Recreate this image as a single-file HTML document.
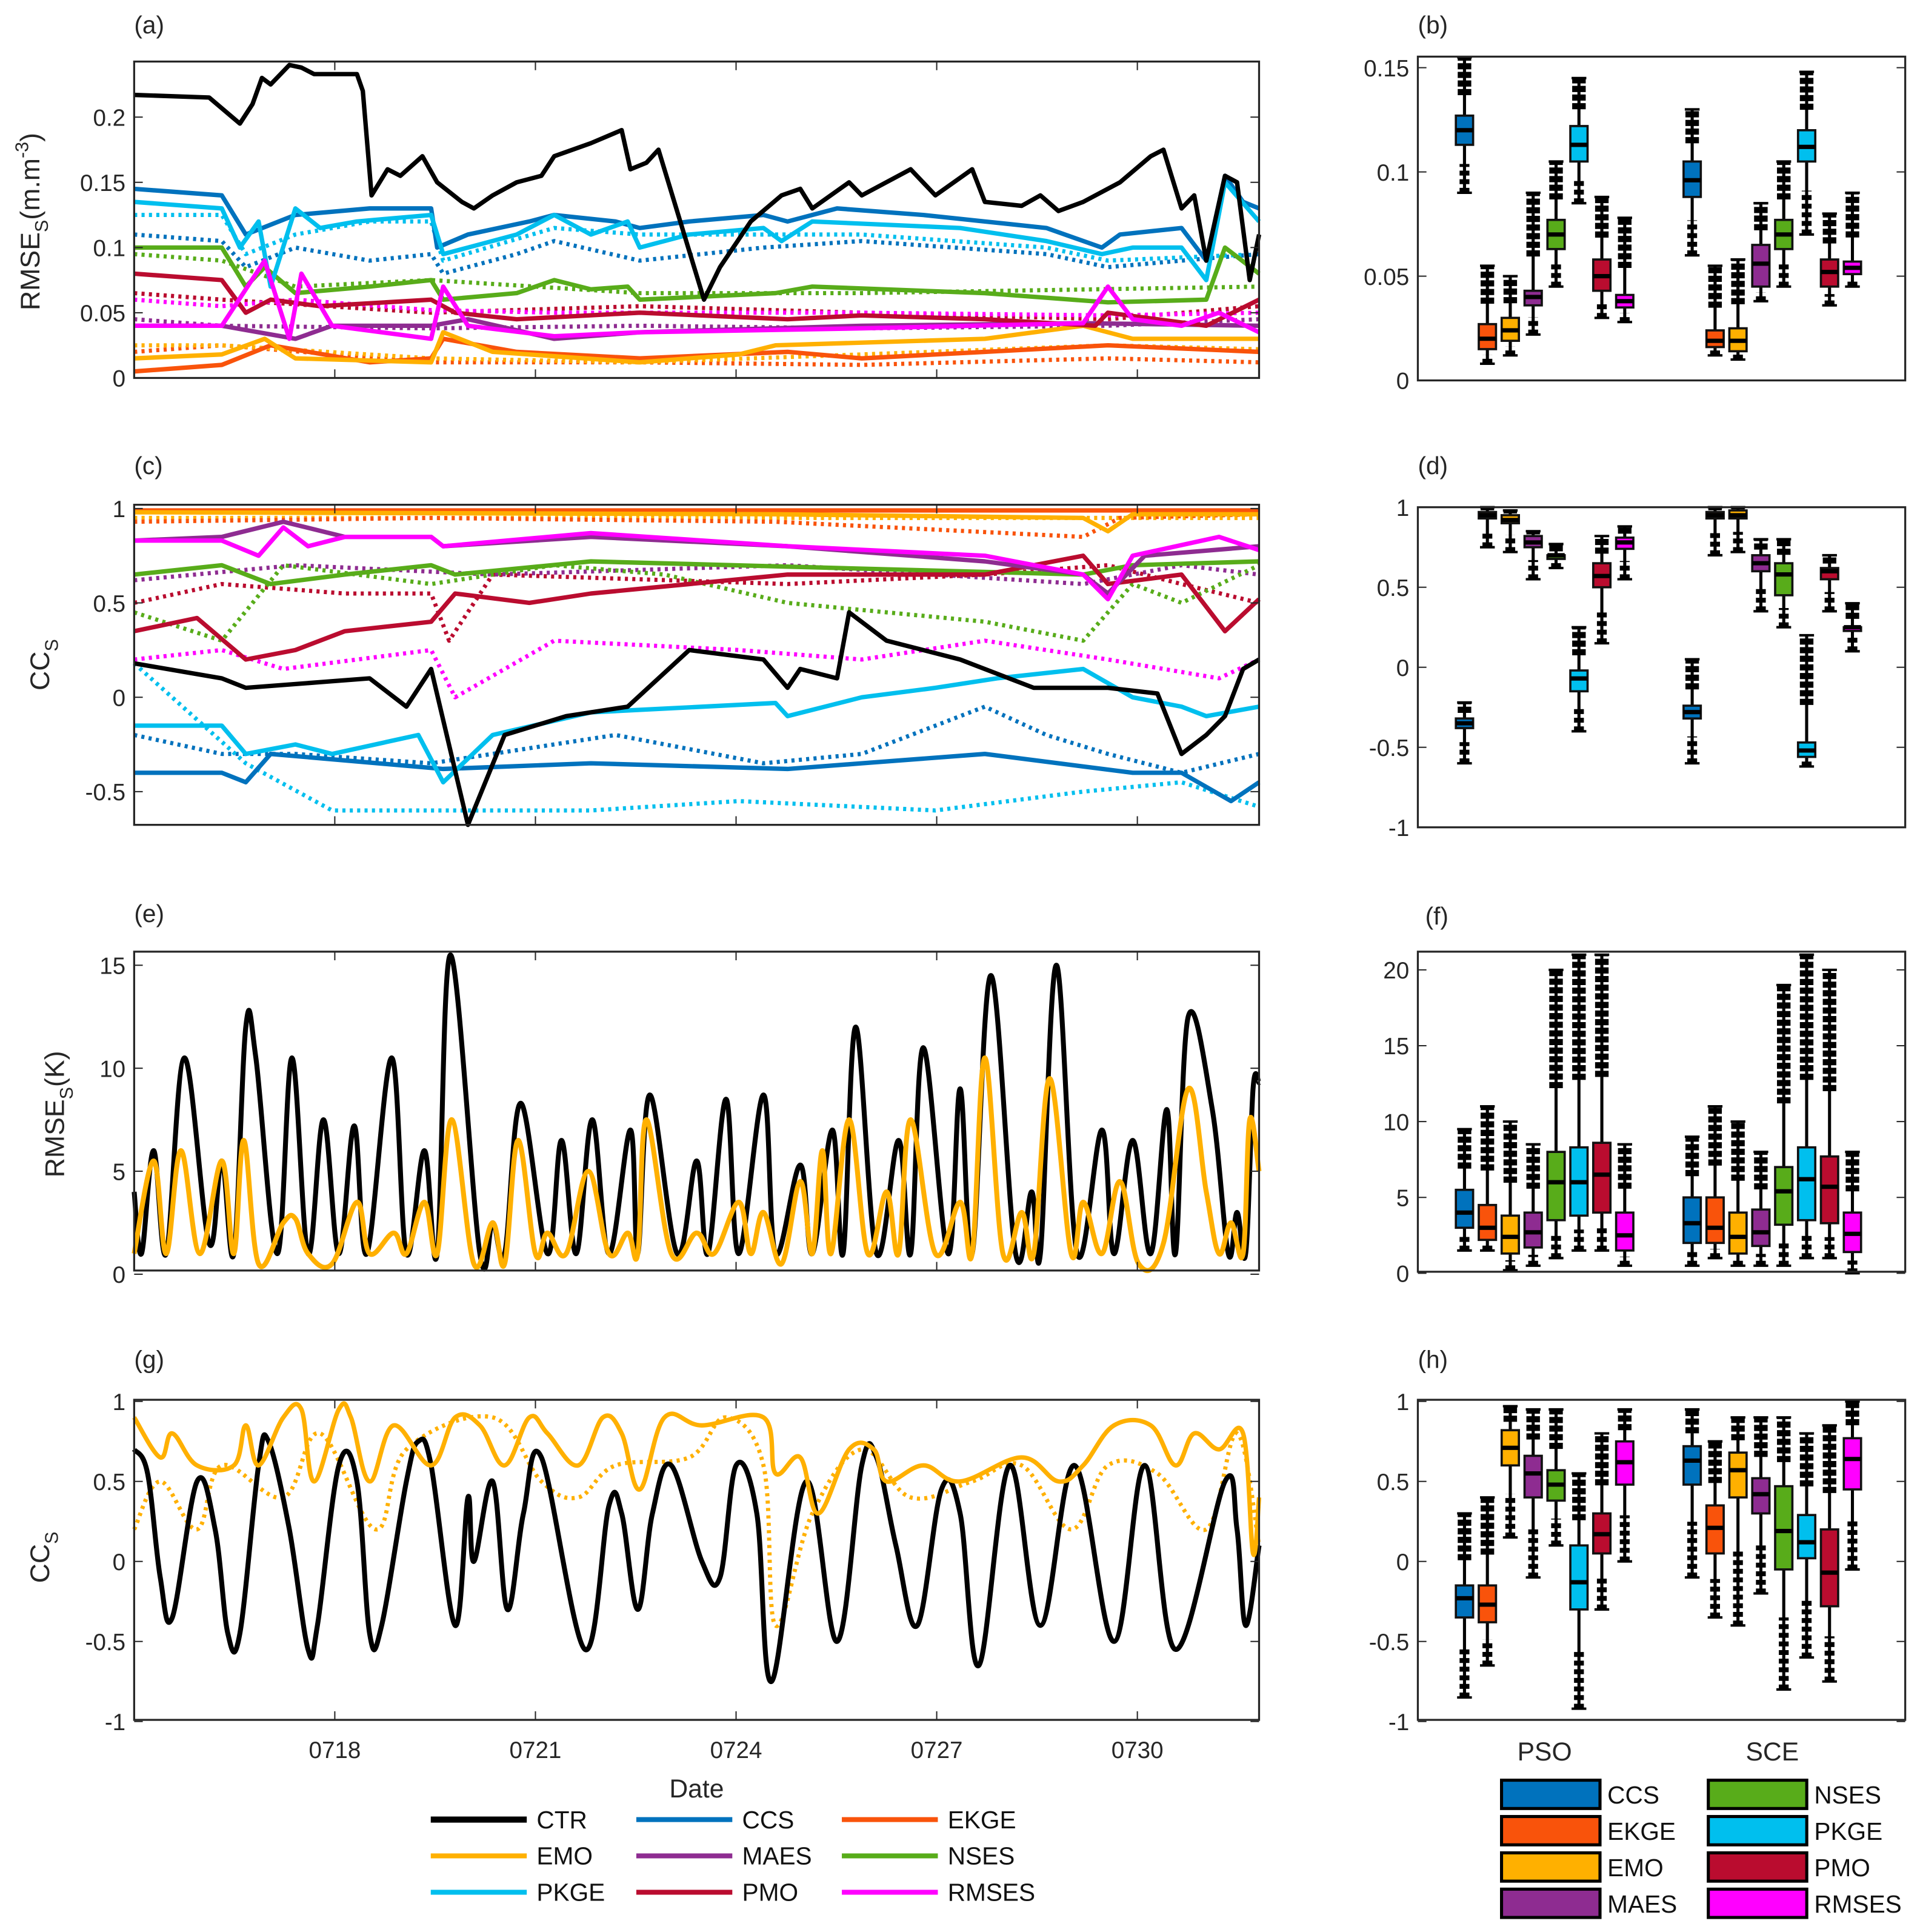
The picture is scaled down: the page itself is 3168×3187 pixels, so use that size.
<!DOCTYPE html>
<html><head><meta charset="utf-8">
<style>
html,body{margin:0;padding:0;background:#fff;}
svg{display:block;font-family:"Liberation Sans",sans-serif;}
</style></head>
<body>
<svg id="fig" xmlns="http://www.w3.org/2000/svg" width="3168" height="3187" viewBox="0 0 1560 1569.3" preserveAspectRatio="none">
<rect x="0" y="0" width="1560" height="1570" fill="#fff"/>
</svg>
<script>
// ---------- colours ----------
const names = ['CTR','CCS','EKGE','EMO','MAES','NSES','PKGE','PMO','RMSES'];
const colors = {CTR:'#000000',CCS:'#0072BD',EKGE:'#F9530B',EMO:'#FFB000',MAES:'#8E2C91',NSES:'#58AC1A',PKGE:'#00BFEE',PMO:'#BA0C2F',RMSES:'#FF00FF'};
const boxNames = ['CCS','EKGE','EMO','MAES','NSES','PKGE','PMO','RMSES'];
const groups = ['PSO','SCE'];
const xTickDays = [18,21,24,27,30];
const xTickLabels = ['0718','0721','0724','0727','0730'];

// ---------- panel (a) soil moisture RMSE ----------
const aCTR_t=[15,16.12,16.58,16.77,16.91,17.04,17.32,17.5,17.69,18.33,18.42,18.55,18.79,18.98,19.31,19.53,19.9,20.08,20.36,20.72,21.09,21.28,21.83,22.29,22.42,22.66,22.84,23.52,23.76,24.22,24.68,24.96,25.14,25.69,25.88,26.61,26.98,27.53,27.72,28.27,28.55,28.82,29.19,29.74,30.2,30.39,30.66,30.85,31.03,31.31,31.49,31.68,31.82];
const aCTR_v=[.217,.215,.195,.21,.23,.225,.24,.238,.233,.233,.22,.14,.16,.155,.17,.15,.135,.13,.14,.15,.155,.17,.18,.19,.16,.165,.175,.06,.085,.12,.14,.145,.13,.15,.14,.16,.14,.16,.135,.132,.14,.128,.135,.15,.17,.175,.13,.14,.09,.155,.15,.075,.11];
const aCCS_t=[15,16.31,16.67,17.41,18.52,19.44,19.53,19.99,20.91,21.28,22.2,22.56,23.3,24.41,24.77,25.51,26.8,27.72,28.64,29.47,29.74,30.66,31.03,31.31,31.58,31.82];
const aCCS_v=[.145,.14,.11,.125,.13,.13,.1,.11,.12,.125,.12,.115,.12,.125,.12,.13,.125,.12,.115,.1,.11,.115,.09,.155,.135,.13];
const aPKGE_t=[15,16.31,16.58,16.86,17.04,17.41,17.78,18.33,19.44,19.62,19.99,20.72,21.28,21.83,22.38,22.56,23.3,24.41,24.68,25.14,27.35,28.64,29.47,29.93,30.66,31.03,31.31,31.82];
const aPKGE_v=[.135,.13,.1,.12,.07,.13,.115,.12,.125,.095,.1,.11,.125,.11,.12,.1,.11,.115,.105,.12,.115,.105,.095,.1,.1,.075,.15,.12];
const aNSES_t=[15,16.31,16.67,16.95,17.41,18.52,19.44,19.62,20.72,21.28,21.83,22.38,22.56,24.59,25.14,27.72,29.56,31.03,31.31,31.82];
const aNSES_v=[.1,.1,.07,.085,.065,.07,.075,.06,.065,.075,.068,.07,.06,.065,.07,.065,.058,.06,.1,.08];
const aPMO_t=[15,16.31,16.67,17.04,17.78,19.44,19.8,20.72,22.56,24.77,25.88,27.72,29.37,29.56,31.03,31.82];
const aPMO_v=[.08,.075,.05,.06,.055,.06,.05,.045,.05,.045,.048,.045,.04,.05,.04,.06];
const aRMSES_t=[15,16.31,16.95,17.32,17.5,17.96,19.44,19.62,19.99,21.28,22.56,25.88,29.19,29.56,29.93,30.66,31.22,31.82];
const aRMSES_v=[.04,.04,.09,.03,.08,.04,.03,.07,.04,.032,.035,.038,.042,.07,.045,.04,.05,.035];
const aMAES_t=[15,16.31,17.41,17.96,19.44,19.99,21.28,22.56,25.88,29.19,31.82];
const aMAES_v=[.04,.04,.03,.04,.04,.045,.03,.035,.04,.042,.04];
const aEMO_t=[15,16.31,16.95,17.41,19.44,19.62,20.36,22.56,24.04,24.59,27.72,29.19,29.93,31.82];
const aEMO_v=[.015,.018,.03,.015,.012,.035,.02,.012,.018,.025,.03,.04,.03,.03];
const aEKGE_t=[15,16.31,17.04,18.52,19.44,19.62,20.72,22.56,24.77,25.88,27.72,29.56,31.82];
const aEKGE_v=[.005,.01,.025,.012,.015,.03,.02,.015,.02,.015,.02,.025,.02];
const aCCSd_t=[15,16.31,16.67,17.41,18.52,19.44,19.62,20.72,21.28,22.56,24.41,25.88,28.64,29.56,30.66,31.82];
const aCCSd_v=[.11,.105,.085,.1,.09,.095,.08,.095,.105,.09,.1,.105,.095,.085,.09,.095];
const aPKGEd_t=[15,16.31,16.67,17.41,18.52,19.44,19.62,21.28,22.56,24.41,25.88,28.64,29.56,31.82];
const aPKGEd_v=[.125,.125,.095,.11,.12,.12,.09,.115,.11,.11,.11,.1,.09,.095];
const aRMSESd_t=[15,16.31,17.41,19.44,21.28,25.88,29.56,31.82];
const aRMSESd_v=[.06,.055,.06,.052,.05,.05,.048,.05];
const aMAESd_t=[15,16.31,19.44,22.56,25.88,29.56,31.82];
const aMAESd_v=[.045,.04,.038,.04,.038,.04,.045];
const aPMOd_t=[15,16.31,19.44,22.56,25.88,29.56,31.82];
const aPMOd_v=[.065,.06,.05,.055,.05,.045,.055];
const aEMOd_t=[15,16.31,19.44,22.56,25.88,29.56,31.82];
const aEMOd_v=[.025,.025,.015,.012,.018,.025,.022];
const aEKGEd_t=[15,16.31,19.44,22.56,25.88,29.56,31.82];
const aEKGEd_v=[.02,.025,.012,.012,.01,.015,.012];
const aNSESd_t=[15,16.31,17.41,19.44,22.56,25.88,31.82];
const aNSESd_v=[.095,.09,.07,.075,.065,.065,.07];

// ---------- panel (c) soil moisture CC ----------
const cEMO_t=[15,24.59,29.19,29.56,29.93,31.82]; const cEMO_v=[.98,.97,.95,.88,.97,.97];
const cEKGE_t=[15,31.82]; const cEKGE_v=[.99,.99];
const cEKGEd_t=[15,19.44,24.59,29.19,29.74,31.82]; const cEKGEd_v=[.93,.95,.93,.85,.95,.97];
const cMAES_t=[15,16.31,17.23,18.15,19.44,19.62,21.83,24.77,27.72,29.19,29.56,30.11,31.82];
const cMAES_v=[.83,.85,.93,.85,.85,.8,.85,.8,.72,.65,.55,.75,.8];
const cRMSES_t=[15,16.31,16.86,17.23,17.6,18.15,19.44,19.62,21.83,24.77,27.72,29.19,29.56,29.93,31.22,31.82];
const cRMSES_v=[.83,.83,.75,.9,.8,.85,.85,.8,.87,.8,.75,.65,.52,.75,.85,.78];
const cNSES_t=[15,16.31,17.04,18.15,19.44,19.8,21.83,29.19,29.93,31.82];
const cNSES_v=[.65,.7,.6,.65,.7,.65,.72,.65,.7,.72];
const cPMO_t=[15,15.94,16.67,17.41,18.15,19.44,19.8,20.91,21.83,23.3,24.77,27.72,29.19,29.56,30.66,31.31,31.82];
const cPMO_v=[.35,.42,.2,.25,.35,.4,.55,.5,.55,.6,.65,.65,.75,.6,.65,.35,.52];
const cCTR_t=[15,16.31,16.67,17.78,18.52,19.07,19.44,19.99,20.54,21.46,22.38,23.3,24.41,24.77,24.96,25.51,25.69,26.25,27.35,28.45,29.56,30.3,30.66,31.03,31.31,31.58,31.82];
const cCTR_v=[.18,.1,.05,.08,.1,-.05,.15,-.7,-.2,-.1,-.05,.25,.2,.05,.15,.1,.45,.3,.2,.05,.05,.02,-.3,-.2,-.1,.15,.2];
const cPKGE_t=[15,16.31,16.67,17.41,17.96,19.25,19.62,20.36,21.83,24.59,24.77,25.88,26.98,27.9,29.19,29.93,30.66,31.03,31.82];
const cPKGE_v=[-.15,-.15,-.3,-.25,-.3,-.2,-.45,-.2,-.08,-.03,-.1,0,.05,.1,.15,0,-.05,-.1,-.05];
const cCCS_t=[15,16.31,16.67,17.04,19.62,21.83,24.77,25.88,27.72,28.82,29.93,30.66,31.4,31.82];
const cCCS_v=[-.4,-.4,-.45,-.3,-.38,-.35,-.38,-.35,-.3,-.35,-.4,-.4,-.55,-.45];
const cPKGEd_t=[15,16.67,17.96,21.83,24.04,26.98,29.19,30.66,31.82]; const cPKGEd_v=[.18,-.35,-.6,-.6,-.55,-.6,-.5,-.45,-.58];
const cCCSd_t=[15,16.31,17.41,19.44,22.2,24.41,25.88,27.72,28.64,29.56,30.66,31.82]; const cCCSd_v=[-.2,-.3,-.3,-.35,-.2,-.35,-.3,-.05,-.2,-.3,-.4,-.3];
const cRMSESd_t=[15,16.31,17.23,19.44,19.8,21.28,24.04,25.88,27.72,29.56,31.22,31.82]; const cRMSESd_v=[.2,.25,.15,.25,0,.3,.25,.2,.3,.2,.1,.2];
const cNSESd_t=[15,16.31,17.23,19.44,21.28,22.93,24.77,27.72,29.19,29.93,30.66,31.82]; const cNSESd_v=[.45,.3,.7,.6,.7,.65,.5,.4,.3,.6,.5,.7];
const cPMOd_t=[15,16.31,18.15,19.44,19.71,20.36,24.77,27.72,29.56,30.66,31.82]; const cPMOd_v=[.5,.6,.55,.55,.3,.65,.6,.65,.7,.6,.5];
const cMAESd_t=[15,17.41,20.36,24.77,29.19,30.66,31.82]; const cMAESd_v=[.62,.7,.65,.7,.6,.7,.65];
const cEMOd_t=[15,31.82]; const cEMOd_v=[.95,.95];

// ---------- panel (e) LST RMSE ----------
const eCTR_t=[15,15.11,15.29,15.48,15.75,16.12,16.31,16.49,16.67,16.82,17.14,17.36,17.6,17.83,18.06,18.29,18.48,18.85,19.07,19.34,19.53,19.73,20.17,20.36,20.54,20.78,21.18,21.39,21.61,21.85,22.1,22.42,22.53,22.71,23.12,23.41,23.58,23.85,24.04,24.41,24.59,24.96,25.14,25.44,25.6,25.79,26.1,26.43,26.61,26.8,27.17,27.35,27.53,27.81,28.18,28.42,28.55,28.79,29.1,29.47,29.65,29.93,30.2,30.44,30.57,30.76,31.12,31.36,31.49,31.62,31.73,31.82];
const eCTR_v=[4,1,6,1,10.5,1.5,5.5,1,12,10.5,1,10.5,1,7.5,1,7.2,1,10.5,1,6,1,15.5,1,2.5,1,8.3,1,6.5,1,7.5,1,7,1,8.7,1,5.5,1,8.5,1,8.7,1,5.3,1,7,1,12,1,6.5,1,11,1,9,1,14.5,1,4,1,15,1,7,1,6.5,1,8,1,12.5,8,1,3,1,9,9.3];
const eEMO_t=[15,15.29,15.48,15.7,15.98,16.31,16.49,16.64,16.86,17.23,17.41,17.6,17.96,18.33,18.52,18.88,19.07,19.34,19.53,19.75,20.08,20.36,20.54,20.74,21,21.18,21.46,21.79,22.1,22.38,22.53,22.66,23.03,23.41,23.67,24.04,24.22,24.41,24.68,24.96,25.14,25.29,25.42,25.69,25.97,26.25,26.43,26.61,26.98,27.35,27.53,27.72,27.99,28.27,28.45,28.69,29.01,29.19,29.47,29.74,30.02,30.39,30.76,31.03,31.22,31.4,31.58,31.68,31.82];
const eEMO_v=[1,5.5,1,6,1,5.5,1,6.5,.5,2.5,2.7,1,.5,3.5,1,2,1,3.5,1,7.5,.5,2.5,.5,6.5,1,2,1,5,1,2,1,7.5,1,2,1,3.5,1,3,.5,4.5,1,6,1,7.5,1,4,1,7.5,1,3.5,1,10.5,1,3,1,9.5,1,3.5,1,4.5,.5,1.5,9,4,1,2.5,1,7.5,5];

// ---------- panel (g) LST CC ----------
const gCTR_t=[15,15.2,15.39,15.57,15.94,16.21,16.4,16.58,16.86,17.01,17.32,17.6,17.74,18.06,18.33,18.52,18.7,19.07,19.25,19.44,19.8,19.99,20.08,20.36,20.58,20.82,21.09,21.74,22.1,22.29,22.53,22.75,23.03,23.49,23.76,24,24.31,24.53,25.05,25.51,25.88,26.1,26.39,26.71,27.07,27.35,27.63,28.09,28.55,29.06,29.65,30.11,30.57,31.31,31.49,31.62,31.82];
const gCTR_v=[.7,.55,-.1,-.35,.5,.2,-.45,-.45,.6,.75,.2,-.55,-.4,.6,.5,-.45,-.4,.5,.75,.6,-.4,.4,0,.5,-.3,.3,.65,-.55,.35,.3,-.3,.3,.6,0,-.1,.6,.3,-.75,.5,-.5,.6,.65,.1,-.4,.45,.3,-.65,.6,-.4,.6,-.5,.6,-.55,.5,.2,-.4,.1];
const gEMO_t=[15,15.39,15.57,15.94,16.49,16.67,16.86,17.23,17.5,17.69,18.06,18.24,18.52,18.88,19.44,19.8,20.17,20.54,20.91,21.18,21.64,22.01,22.29,22.56,22.93,23.49,24.41,24.59,24.96,25.23,25.69,26.06,26.25,26.8,27.35,28.27,28.82,29.19,29.65,30.2,30.57,30.85,31.22,31.58,31.73,31.82];
const gEMO_v=[.9,.65,.8,.6,.6,.85,.6,.9,.95,.5,.95,.9,.5,.85,.6,.9,.85,.6,.9,.8,.6,.9,.8,.45,.9,.85,.9,.55,.65,.3,.7,.7,.5,.6,.5,.65,.5,.6,.85,.85,.6,.8,.7,.8,.05,.4];
const gEMOd_t=[15,15.39,15.94,16.31,17.23,17.78,18.61,19.07,20.36,21.09,21.64,22.2,23.3,23.85,24.41,24.59,25.14,25.88,26.61,27.53,28.27,29.01,29.56,30.3,31.03,31.49,31.82];
const gEMOd_v=[.2,.5,.2,.6,.4,.8,.2,.7,.9,.5,.4,.6,.65,.9,.6,-.4,.3,.7,.4,.5,.6,.2,.6,.55,.2,.8,.1];

// ---------- box plot stats: order CCS,EKGE,EMO,MAES,NSES,PKGE,PMO,RMSES ×(PSO,SCE) ----------
const bMed=[.12,.02,.024,.04,.07,.113,.05,.038, .096,.019,.019,.056,.07,.112,.052,.054];
const bQ1 =[.113,.015,.019,.036,.063,.105,.043,.035, .088,.016,.014,.045,.063,.105,.045,.051];
const bQ3 =[.127,.027,.03,.043,.077,.122,.058,.041, .105,.024,.025,.065,.077,.12,.058,.057];
const bLo =[.09,.008,.012,.022,.045,.085,.03,.028, .06,.012,.01,.038,.045,.07,.036,.045];
const bHi =[.155,.055,.05,.09,.105,.145,.088,.078, .13,.055,.058,.085,.105,.148,.08,.09];
const dMed=[-.35,.95,.92,.78,.7,-.07,.57,.78, -.28,.95,.95,.65,.58,-.52,.6,.25];
const dQ1 =[-.38,.93,.9,.75,.7,-.15,.5,.74, -.32,.93,.93,.6,.45,-.56,.55,.25];
const dQ3 =[-.32,.97,.95,.82,.7,-.02,.65,.81, -.24,.97,.98,.7,.65,-.47,.62,.25];
const dLo =[-.6,.75,.72,.55,.62,-.4,.15,.55, -.6,.7,.72,.35,.25,-.62,.35,.1];
const dHi =[-.22,1,.98,.85,.77,.25,.82,.88, .05,1,1,.8,.8,.2,.7,.4];
const fMed=[4,3,2.4,2.7,6,6,6.5,2.5, 3.3,3,2.4,2.7,5.4,6.2,5.7,2.6];
const fQ1 =[3,2.2,1.3,1.7,3.5,3.8,4,1.5, 2,2,1.3,1.8,3.2,3.5,3.3,1.4];
const fQ3 =[5.5,4.5,3.8,4,8,8.3,8.6,4, 5,5,4,4.2,7,8.3,7.7,4];
const fLo =[1.5,1.5,.2,.5,1,1.5,1.5,.5, .5,1,.5,.5,.5,1,1,0];
const fHi =[9.5,11,10,8.5,20,21,21,8.5, 9,11,10,8,19,21,20,8];
const hMed=[-.23,-.27,.71,.55,.48,-.13,.17,.62, .63,.21,.57,.42,.19,.12,-.07,.64];
const hQ1 =[-.35,-.38,.6,.4,.38,-.3,.05,.48, .48,.05,.4,.3,-.05,.02,-.28,.45];
const hQ3 =[-.15,-.15,.82,.66,.57,.1,.3,.75, .72,.35,.68,.52,.47,.29,.2,.77];
const hLo =[-.85,-.65,.15,-.1,.1,-.92,-.3,0, -.1,-.35,-.4,-.2,-.8,-.6,-.75,-.05];
const hHi =[.3,.4,.97,.95,.95,.55,.8,.95, .95,.75,.9,.9,.9,.8,.85,1];
const aTicks=[0,.05,.1,.15,.2]; const aTickLabels=['0','0.05','0.1','0.15','0.2'];
const bTicks=[0,.05,.1,.15]; const bTickLabels=['0','0.05','0.1','0.15'];
const ccTicks=[-1,-.5,0,.5,1]; const ccTickLabels=['-1','-0.5','0','0.5','1'];
const eTicks=[0,5,10,15]; const eTickLabels=['0','5','10','15'];
const fTicks=[0,5,10,15,20]; const fTickLabels=['0','5','10','15','20'];

// ---------- drawing ----------
const svg=document.getElementById('fig');
const NS='http://www.w3.org/2000/svg';
function mk(tag,attrs,parent){const e=document.createElementNS(NS,tag);for(const k in attrs)e.setAttribute(k,attrs[k]);(parent||svg).appendChild(e);return e;}
const XMIN=15, XMAX=31.82;
function panel(id,x0,x1,y0,y1,ymin,ymax){
  const g=mk('g',{});
  
  
  return {g,x0,x1,y0,y1,ymin,ymax,
    sx:d=>x0+(d-XMIN)/(XMAX-XMIN)*(x1-x0),
    sy:v=>y1-(v-ymin)/(ymax-ymin)*(y1-y0)};
}
function frame(p,ticks,labels,xt){
  const r=mk('rect',{x:p.x0,y:p.y0,width:p.x1-p.x0,height:p.y1-p.y0,fill:'none',stroke:'#262626','stroke-width':1.6},p.g);
  
  
  ticks.forEach((t,i)=>{
    const y=p.sy(t);
    mk('line',{x1:p.x0,x2:p.x0+7,y1:y,y2:y,stroke:'#262626','stroke-width':1},p.g);
    mk('line',{x1:p.x1,x2:p.x1-7,y1:y,y2:y,stroke:'#262626','stroke-width':1},p.g);
    const tx=mk('text',{x:p.x0-7,y:y+7,'text-anchor':'end','font-size':19,fill:'#262626'},p.g);
    tx.textContent=labels[i];
    
    
  });
  if(xt){xTickDays.forEach((d,i)=>{const x=p.sx(d);
    mk('line',{x1:x,x2:x,y1:p.y1,y2:p.y1-7,stroke:'#262626','stroke-width':1},p.g);
    mk('line',{x1:x,x2:x,y1:p.y0,y2:p.y0+7,stroke:'#262626','stroke-width':1},p.g);
    if(xt===2){const tx=mk('text',{x:x,y:p.y1+31,'text-anchor':'middle','font-size':19,fill:'#262626'},p.g);tx.textContent=xTickLabels[i];
      
      }
  });}
}
function line(p,t,v,name,dotted,w,smooth){
  const P=t.map((d,i)=>[p.sx(d),p.sy(Math.max(p.ymin,Math.min(p.ymax,v[i])))]);
  let dstr='M'+P[0][0].toFixed(1)+','+P[0][1].toFixed(1);
  for(let i=1;i<P.length;i++){
    if(smooth){
      const p0=P[Math.max(0,i-2)],p1=P[i-1],p2=P[i],p3=P[Math.min(P.length-1,i+1)];
      const k=0.18;
      const c1x=p1[0]+(p2[0]-p0[0])*k, c1y=p1[1]+(p2[1]-p0[1])*k;
      const c2x=p2[0]-(p3[0]-p1[0])*k, c2y=p2[1]-(p3[1]-p1[1])*k;
      dstr+=` C${c1x.toFixed(1)},${c1y.toFixed(1)} ${c2x.toFixed(1)},${c2y.toFixed(1)} ${p2[0].toFixed(1)},${p2[1].toFixed(1)}`;
    } else dstr+=' L'+P[i][0].toFixed(1)+','+P[i][1].toFixed(1);
  }
  const a={d:dstr,fill:'none',stroke:colors[name],'stroke-width':w||3.6,'stroke-linejoin':'round'};
  if(dotted){a['stroke-dasharray']='2.5 3.5';a['stroke-width']=3.4;}
  const e=mk('path',a,p.g);
  
  
}
function label(txt,x,y){const t=mk('text',{x:x,y:y,'font-size':20,fill:'#262626'});t.textContent=txt;
  
  }

// panel a
const pa=panel('a',109,1023,50,307,0,.2426);
line(pa,aEKGEd_t,aEKGEd_v,'EKGE',1);line(pa,aEMOd_t,aEMOd_v,'EMO',1);line(pa,aMAESd_t,aMAESd_v,'MAES',1);line(pa,aPMOd_t,aPMOd_v,'PMO',1);
line(pa,aRMSESd_t,aRMSESd_v,'RMSES',1);line(pa,aNSESd_t,aNSESd_v,'NSES',1);line(pa,aCCSd_t,aCCSd_v,'CCS',1);line(pa,aPKGEd_t,aPKGEd_v,'PKGE',1);
line(pa,aEKGE_t,aEKGE_v,'EKGE');line(pa,aEMO_t,aEMO_v,'EMO');line(pa,aMAES_t,aMAES_v,'MAES');line(pa,aPMO_t,aPMO_v,'PMO');
line(pa,aNSES_t,aNSES_v,'NSES');line(pa,aCCS_t,aCCS_v,'CCS');line(pa,aPKGE_t,aPKGE_v,'PKGE');line(pa,aRMSES_t,aRMSES_v,'RMSES');line(pa,aCTR_t,aCTR_v,'CTR');
frame(pa,aTicks,aTickLabels,1);
// panel c
const pc=panel('c',109,1023,410,670,-.676,1.02);
line(pc,cEMOd_t,cEMOd_v,'EMO',1);line(pc,cEKGEd_t,cEKGEd_v,'EKGE',1);line(pc,cMAESd_t,cMAESd_v,'MAES',1);line(pc,cPMOd_t,cPMOd_v,'PMO',1);
line(pc,cNSESd_t,cNSESd_v,'NSES',1);line(pc,cRMSESd_t,cRMSESd_v,'RMSES',1);line(pc,cCCSd_t,cCCSd_v,'CCS',1);line(pc,cPKGEd_t,cPKGEd_v,'PKGE',1);
line(pc,cNSES_t,cNSES_v,'NSES');line(pc,cPMO_t,cPMO_v,'PMO');line(pc,cMAES_t,cMAES_v,'MAES');line(pc,cRMSES_t,cRMSES_v,'RMSES');
line(pc,cEKGE_t,cEKGE_v,'EKGE');line(pc,cEMO_t,cEMO_v,'EMO');line(pc,cCCS_t,cCCS_v,'CCS');line(pc,cPKGE_t,cPKGE_v,'PKGE');line(pc,cCTR_t,cCTR_v,'CTR');
frame(pc,ccTicks.slice(1),ccTickLabels.slice(1),1);
// panel e
const pe=panel('e',109,1023,773,1032,.18,15.66);
line(pe,eCTR_t,eCTR_v,'CTR',0,4,1);line(pe,eEMO_t,eEMO_v,'EMO',0,4,1);
frame(pe,eTicks,eTickLabels,1);
// panel g
const pg=panel('g',109,1023,1137,1397,-.99,1.01);
line(pg,gEMOd_t,gEMOd_v,'EMO',1,0,1);line(pg,gCTR_t,gCTR_v,'CTR',0,4,1);line(pg,gEMO_t,gEMO_v,'EMO',0,3.6,1);
frame(pg,ccTicks,ccTickLabels,2);

// box panels
function boxPanel(id,y0,y1,ymin,ymax,med,q1,q3,lo,hi,ticks,labels){
  const p=panel(id,1152,1548,y0,y1,ymin,ymax);
  const centers=[1255,1440];
  for(let i=0;i<16;i++){
    const gi=i<8?0:1, k=i%8;
    const cx=centers[gi]+(k-3.5)*18.6;
    const wl=mk('line',{x1:cx,x2:cx,y1:p.sy(lo[i]),y2:p.sy(hi[i]),stroke:'#000','stroke-width':2.5},p.g);
    
    
    const ol=mk('line',{x1:cx,x2:cx,y1:p.sy(q3[i]+(hi[i]-q3[i])*0.35),y2:p.sy(hi[i]),stroke:'#000','stroke-width':11,'stroke-dasharray':'5 2'},p.g);
    
    
    const ol2=mk('line',{x1:cx,x2:cx,y1:p.sy(lo[i]),y2:p.sy(q1[i]-(q1[i]-lo[i])*0.4),stroke:'#000','stroke-width':8,'stroke-dasharray':'4 3'},p.g);
    
    
    [hi[i],lo[i]].forEach(v=>mk('line',{x1:cx-6,x2:cx+6,y1:p.sy(v),y2:p.sy(v),stroke:'#000','stroke-width':2},p.g));
    const b=mk('rect',{x:cx-7,y:p.sy(q3[i]),width:14,height:Math.max(3,p.sy(q1[i])-p.sy(q3[i])),fill:colors[boxNames[k]],stroke:'#111','stroke-width':1.8},p.g);
    
    
    mk('line',{x1:cx-7,x2:cx+7,y1:p.sy(med[i]),y2:p.sy(med[i]),stroke:'#000','stroke-width':3.5},p.g);
  }
  frame(p,ticks,labels,0);
  return p;
}
boxPanel('b',46,309,0,.1553,bMed,bQ1,bQ3,bLo,bHi,bTicks,bTickLabels);
boxPanel('d',412,672,-1,1,dMed,dQ1,dQ3,dLo,dHi,ccTicks,ccTickLabels);
boxPanel('f',773,1033,.1,21.2,fMed,fQ1,fQ3,fLo,fHi,fTicks,fTickLabels);
boxPanel('h',1137,1397,-.99,1.01,hMed,hQ1,hQ3,hLo,hHi,ccTicks,ccTickLabels);
[['PSO',1255],['SCE',1440]].forEach(([t,x])=>{const e=mk('text',{x:x,y:1430,'text-anchor':'middle','font-size':21,fill:'#262626'});e.textContent=t;
  
  });

label('(a)',109,27);label('(b)',1152,27);label('(c)',109,385);label('(d)',1152,385);
label('(e)',109,749);label('(f)',1158,751);label('(g)',109,1111);label('(h)',1152,1111);

// y-axis titles
function ytitle(x,y,main,sub,extra){
  const t=mk('text',{transform:`translate(${x},${y}) rotate(-90)`,'text-anchor':'middle','font-size':22,fill:'#262626'});
  
  
  t.innerHTML=main+`<tspan font-size="15" dy="7">${sub}</tspan><tspan dy="-7">${extra||''}</tspan>`;
}
ytitle(32,180,'RMSE','S','(m.m<tspan font-size="15" dy="-9">-3</tspan><tspan dy="9">)</tspan>');
ytitle(40,540,'CC','S','');
ytitle(52,905,'RMSE','S','(K)');
ytitle(40,1265,'CC','S','');
const dt=mk('text',{x:566,y:1460,'text-anchor':'middle','font-size':21,fill:'#262626'});dt.textContent='Date';



// line legend
const legOrder=[['CTR','CCS','EKGE'],['EMO','MAES','NSES'],['PKGE','PMO','RMSES']];
const legCols=[350,517,684];
legOrder.forEach((row,r)=>row.forEach((n,c)=>{
  const y=1478+r*29.5;
  const l=mk('line',{x1:legCols[c],x2:legCols[c]+78,y1:y,y2:y,stroke:colors[n],'stroke-width':n==='CTR'?5:4});
  
  
  const t=mk('text',{x:legCols[c]+86,y:y+7,'font-size':20,fill:'#111'});t.textContent=n;
  
  
}));
// box legend
const boxLegCols=[1220,1388];
boxNames.forEach((n,i)=>{
  const c=i<4?0:1, r=i%4;
  const y=1446+r*29.5;
  const b=mk('rect',{x:boxLegCols[c],y:y,width:80,height:23,fill:colors[n],stroke:'#000','stroke-width':2.5});
  
  
  const t=mk('text',{x:boxLegCols[c]+86,y:y+19,'font-size':20,fill:'#111'});t.textContent=n;
  
  
});
</script>
</body></html>
